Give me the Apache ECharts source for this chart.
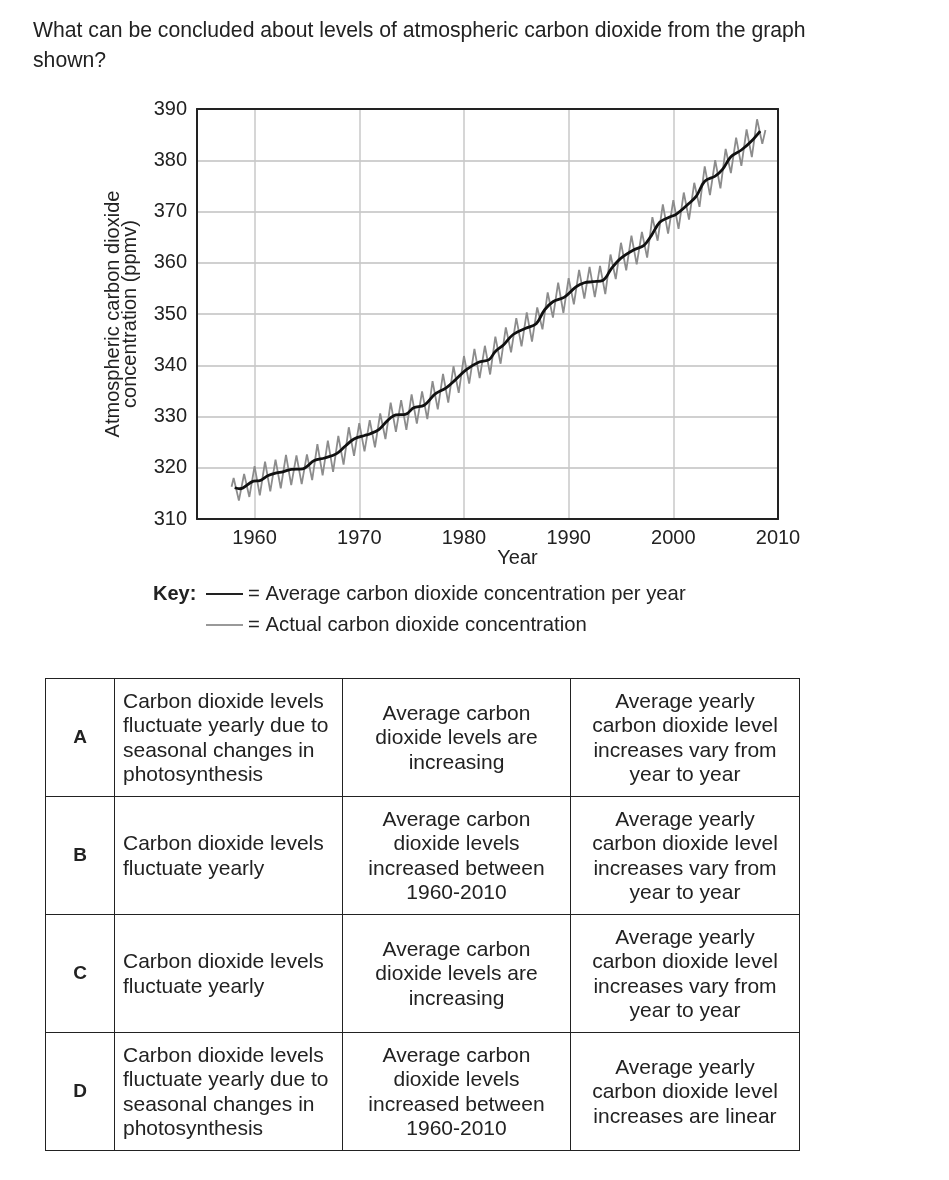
<!DOCTYPE html>
<html>
<head>
<meta charset="utf-8">
<script src="https://cdn.jsdelivr.net/npm/echarts@6/dist/echarts.min.js"></script>
<style>
  html, body { margin: 0; padding: 0; background: #fff; }
  body { width: 949px; height: 1180px; position: relative; font-family: "Liberation Sans", Arial, sans-serif; color: #222; }
  #chart { position: absolute; left: 0; top: 0; width: 949px; height: 1180px; }
  #q { position: absolute; left: 33px; top: 15px; width: 900px; font-size: 21.2px; line-height: 30px; color: #222; }
  table { position: absolute; left: 45px; top: 678px; border-collapse: collapse; font-size: 21px; line-height: 24.4px; color: #222; }
  td { border: 1px solid #222; height: 117px; padding: 0 8px; vertical-align: middle; }
  td.l { width: 52px; text-align: center; font-weight: bold; font-size: 19px; }
  td.a { width: 211px; text-align: left; }
  td.c { width: 211px; text-align: center; }
  td.d { width: 200px; padding: 0 14px; text-align: center; }
</style>
</head>
<body>
<div id="chart"></div>
<div id="q">What can be concluded about levels of atmospheric carbon dioxide from the graph<br>shown?</div>
<table>
  <tr><td class="l">A</td><td class="a">Carbon dioxide levels fluctuate yearly due to seasonal changes in photosynthesis</td><td class="c">Average carbon dioxide levels are increasing</td><td class="d">Average yearly carbon dioxide level increases vary from year to year</td></tr>
  <tr><td class="l">B</td><td class="a">Carbon dioxide levels fluctuate yearly</td><td class="c">Average carbon dioxide levels increased between 1960-2010</td><td class="d">Average yearly carbon dioxide level increases vary from year to year</td></tr>
  <tr><td class="l">C</td><td class="a">Carbon dioxide levels fluctuate yearly</td><td class="c">Average carbon dioxide levels are increasing</td><td class="d">Average yearly carbon dioxide level increases vary from year to year</td></tr>
  <tr><td class="l">D</td><td class="a">Carbon dioxide levels fluctuate yearly due to seasonal changes in photosynthesis</td><td class="c">Average carbon dioxide levels increased between 1960-2010</td><td class="d">Average yearly carbon dioxide level increases are linear</td></tr>
</table>
<script>
// ---- data ----
const xTicks = [1960, 1970, 1980, 1990, 2000, 2010];
const yTicks = [310, 320, 330, 340, 350, 360, 370, 380, 390];

const avgYears = [1958.1, 1958.6, 1959.9, 1960.5, 1961.3, 1962.1, 1962.7, 1963.5, 1964.6, 1965.7,
  1966.7, 1967.8, 1968.7, 1969.5, 1970.5, 1971.0, 1971.9, 1972.7, 1973.5, 1974.4,
  1975.2, 1976.2, 1977.2, 1978.3, 1979.2, 1980.2, 1981.4, 1982.4, 1983.0, 1983.8,
  1984.7, 1985.9, 1986.9, 1987.7, 1988.5, 1989.6, 1990.7, 1991.5, 1992.3, 1993.3,
  1994.1, 1995.0, 1996.2, 1997.2, 1997.9, 1998.7, 1999.5, 2000.3, 2001.4, 2002.2,
  2003.0, 2004.0, 2004.7, 2005.5, 2006.5, 2007.4, 2008.3];
const avgCO2 = [316.1, 315.9, 317.4, 317.5, 318.5, 319.0, 319.2, 319.7, 319.8, 321.4,
  321.9, 322.7, 324.3, 325.6, 326.3, 326.6, 327.5, 329.2, 330.3, 330.4,
  331.7, 332.2, 334.3, 335.6, 337.2, 339.1, 340.6, 341.1, 342.7, 344.0,
  346.0, 347.2, 348.1, 350.8, 352.4, 353.3, 355.3, 356.1, 356.3, 356.6,
  358.9, 360.9, 362.5, 363.4, 365.3, 367.9, 368.8, 369.5, 371.4, 373.0,
  375.9, 376.9, 378.2, 380.7, 382.0, 383.6, 385.7];

const actualYears = [1957.8,
  1958.0, 1958.5, 1959.0, 1959.5, 1960.0, 1960.5, 1961.0, 1961.5, 1962.0, 1962.5,
  1963.0, 1963.5, 1964.0, 1964.5, 1965.0, 1965.5, 1966.0, 1966.5, 1967.0, 1967.5,
  1968.0, 1968.5, 1969.0, 1969.5, 1970.0, 1970.5, 1971.0, 1971.5, 1972.0, 1972.5,
  1973.0, 1973.5, 1974.0, 1974.5, 1975.0, 1975.5, 1976.0, 1976.5, 1977.0, 1977.5,
  1978.0, 1978.5, 1979.0, 1979.5, 1980.0, 1980.5, 1981.0, 1981.5, 1982.0, 1982.5,
  1983.0, 1983.5, 1984.0, 1984.5, 1985.0, 1985.5, 1986.0, 1986.5, 1987.0, 1987.5,
  1988.0, 1988.5, 1989.0, 1989.5, 1990.0, 1990.5, 1991.0, 1991.5, 1992.0, 1992.5,
  1993.0, 1993.5, 1994.0, 1994.5, 1995.0, 1995.5, 1996.0, 1996.5, 1997.0, 1997.5,
  1998.0, 1998.5, 1999.0, 1999.5, 2000.0, 2000.5, 2001.0, 2001.5, 2002.0, 2002.5,
  2003.0, 2003.5, 2004.0, 2004.5, 2005.0, 2005.5, 2006.0, 2006.5, 2007.0, 2007.5,
  2008.0, 2008.5, 2008.8];
const actualCO2 = [316.3,
  318.0, 313.6, 318.8, 314.3, 320.3, 314.6, 321.2, 315.4, 321.6, 316.0,
  322.5, 316.6, 322.4, 316.8, 322.6, 317.6, 324.6, 318.5, 325.3, 319.2,
  326.2, 320.6, 327.9, 322.3, 328.7, 323.2, 329.3, 324.0, 330.6, 325.6,
  332.7, 327.0, 333.2, 327.4, 334.3, 328.6, 334.9, 329.5, 336.9, 331.4,
  338.3, 332.7, 339.8, 334.6, 341.8, 336.4, 343.2, 337.5, 343.8, 338.2,
  345.6, 340.3, 347.4, 342.5, 349.2, 343.7, 350.3, 344.6, 351.3, 347.0,
  354.2, 349.3, 356.1, 350.2, 357.0, 351.9, 358.6, 353.0, 359.2, 353.3,
  359.4, 353.9, 361.6, 356.8, 363.9, 358.5, 365.3, 359.7, 366.0, 361.0,
  368.9, 364.3, 371.4, 365.7, 372.2, 366.6, 373.7, 368.4, 375.6, 370.9,
  378.8, 373.2, 380.0, 374.5, 382.2, 377.5, 384.4, 378.9, 386.0, 380.6,
  388.0, 383.2, 385.9];

const avgName = 'Average carbon dioxide concentration per year';
const actName = 'Actual carbon dioxide concentration';

const chart = echarts.init(document.getElementById('chart'), null, { renderer: 'canvas' });
const font = '"Liberation Sans", Arial, sans-serif';
const frame = { show: true, onZero: false, lineStyle: { color: '#222', width: 2 } };

chart.setOption({
  animation: false,
  textStyle: { fontFamily: font, color: '#222' },
  grid: { left: 197, right: 171, top: 109, bottom: 661, show: false },
  legend: {
    orient: 'vertical', left: 206, top: 583, padding: 0,
    itemWidth: 37, itemHeight: 2, itemGap: 9, icon: 'rect',
    data: [
      { name: avgName, itemStyle: { color: '#222' } },
      { name: actName, itemStyle: { color: '#999' } }
    ],
    formatter: n => '= ' + n,
    textStyle: { fontSize: 20.3, color: '#222', fontFamily: font, lineHeight: 22 }
  },
  graphic: [{
    type: 'text', left: 153, top: 583,
    style: { text: 'Key:', font: 'bold 20px ' + font, fill: '#222', lineHeight: 22 }
  }],
  xAxis: [{
    type: 'value', min: 1954.5, max: 2010, position: 'bottom',
    name: 'Year', nameLocation: 'middle', nameGap: 29,
    nameTextStyle: { fontSize: 20, color: '#222', padding: [0, 0, 0, 60] },
    axisLine: frame,
    axisTick: { show: false, customValues: xTicks },
    axisLabel: { customValues: xTicks, fontSize: 20, color: '#222', margin: 9, formatter: v => String(v) },
    splitLine: { show: true, lineStyle: { color: '#c8c8c8', width: 1.5 } }
  }, {
    type: 'value', min: 1954.5, max: 2010, position: 'top',
    axisLine: frame, axisTick: { show: false }, axisLabel: { show: false }, splitLine: { show: false }
  }],
  yAxis: [{
    type: 'value', min: 310, max: 390, interval: 10, position: 'left',
    name: 'Atmospheric carbon dioxide\nconcentration (ppmv)',
    nameLocation: 'middle', nameRotate: 90, nameGap: 58,
    nameTextStyle: { fontSize: 20, color: '#222', lineHeight: 17 },
    axisLine: frame,
    axisTick: { show: false },
    axisLabel: { fontSize: 20, color: '#222', margin: 10 },
    splitLine: { show: true, lineStyle: { color: '#c0c0c0', width: 1.5 } }
  }, {
    type: 'value', min: 310, max: 390, interval: 10, position: 'right',
    axisLine: frame, axisTick: { show: false }, axisLabel: { show: false }, splitLine: { show: false }
  }],
  series: [
    {
      name: actName, type: 'line', symbol: 'none',
      data: actualYears.map((y, i) => [y, actualCO2[i]]),
      lineStyle: { color: '#8c8c8c', width: 1.8 },
      itemStyle: { color: '#8c8c8c' },
      z: 2
    },
    {
      name: avgName, type: 'line', symbol: 'none', smooth: 0.35,
      data: avgYears.map((y, i) => [y, avgCO2[i]]),
      lineStyle: { color: '#111', width: 2.8 },
      itemStyle: { color: '#111' },
      z: 3
    }
  ]
});
</script>
</body>
</html>
